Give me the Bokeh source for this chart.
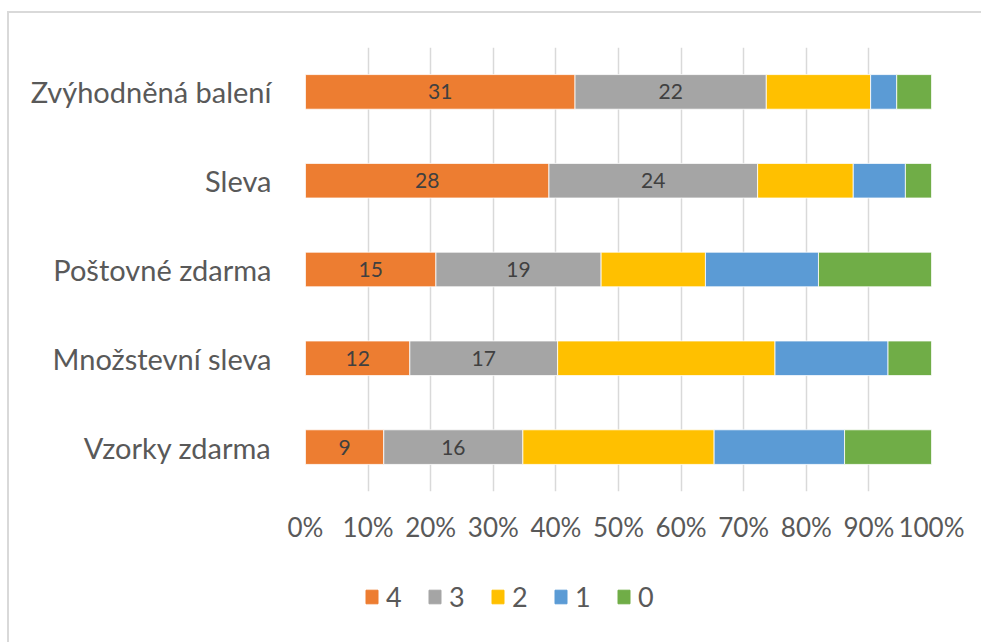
from bokeh.plotting import figure
from bokeh.models import ColumnDataSource, FixedTicker, NumeralTickFormatter, Legend, LegendItem
from bokeh.layouts import column
from bokeh.core.properties import value
from bokeh.embed import file_html
from bokeh.resources import INLINE

categories = ["Zvýhodněná balení", "Sleva", "Poštovné zdarma", "Množstevní sleva", "Vzorky zdarma"]
series = ["4", "3", "2", "1", "0"]
v4 = [31, 28, 15, 12, 9]
v3 = [22, 24, 19, 17, 16]
v2 = [12, 11, 12, 25, 22]
v1 = [3, 6, 13, 13, 15]
v0 = [4, 3, 13, 5, 10]
colors = ["#ED7D31", "#A5A5A5", "#FFC000", "#5B9BD5", "#70AD47"]
tick_values = [0, 0.1, 0.2, 0.3, 0.4, 0.5, 0.6, 0.7, 0.8, 0.9, 1.0]

raw = {"4": v4, "3": v3, "2": v2, "1": v1, "0": v0}
totals = [sum(raw[s][i] for s in series) for i in range(len(categories))]
data = {"cat": categories}
for s in series:
    data[s] = [raw[s][i] / totals[i] for i in range(len(categories))]
data["x4"] = [data["4"][i] / 2 for i in range(len(categories))]
data["x3"] = [data["4"][i] + data["3"][i] / 2 for i in range(len(categories))]
data["l4"] = [str(v) for v in v4]
data["l3"] = [str(v) for v in v3]
source = ColumnDataSource(data)

FONT = "Lato"
TXT = "#595959"
W = 976

p = figure(width=W, height=548, y_range=list(reversed(categories)), x_range=(0, 1),
           output_backend="svg", toolbar_location=None,
           min_border_left=296, min_border_right=54, min_border_top=34, min_border_bottom=70)
p.outline_line_color = None
p.y_range.range_padding = 0

renderers = p.hbar_stack(series, y="cat", height=0.39, source=source, color=colors,
                         line_color="white", line_width=0.8)

p.text(x="x4", y="cat", text="l4", source=source, text_align="center", text_baseline="middle",
       text_font=value(FONT), text_font_size="21px", text_color="#404040")
p.text(x="x3", y="cat", text="l3", source=source, text_align="center", text_baseline="middle",
       text_font=value(FONT), text_font_size="21px", text_color="#404040")

p.xaxis.ticker = FixedTicker(ticks=tick_values)
p.xaxis.formatter = NumeralTickFormatter(format="0%")
p.xaxis.axis_line_color = None
p.xaxis.major_tick_line_color = None
p.xaxis.minor_tick_line_color = None
p.xaxis.major_label_standoff = 13
p.xaxis.major_label_text_font = FONT
p.xaxis.major_label_text_font_size = "26px"
p.xaxis.major_label_text_color = TXT

p.yaxis.axis_line_color = None
p.yaxis.major_tick_line_color = None
p.yaxis.minor_tick_line_color = None
p.yaxis.major_label_standoff = 28
p.yaxis.major_label_text_font = FONT
p.yaxis.major_label_text_font_size = "29px"
p.yaxis.major_label_text_color = TXT

p.xgrid.ticker = FixedTicker(ticks=tick_values)
p.xgrid.grid_line_color = "#d9d9d9"
p.xgrid.grid_line_width = 1.5
p.ygrid.grid_line_color = None

# legend strip (frame is aligned with the main chart's frame by the column layout)
p2 = figure(width=W, height=82, x_range=(0, 1), y_range=(0, 1),
            output_backend="svg", toolbar_location=None,
            min_border_left=296, min_border_right=54, min_border_top=0, min_border_bottom=0)
p2.axis.visible = False
p2.grid.grid_line_color = None
p2.outline_line_color = None
proxy = ColumnDataSource({"y": [float("nan")], "left": [float("nan")], "right": [float("nan")]})
dummies = [p2.hbar(y="y", left="left", right="right", height=0.1, source=proxy,
                   fill_color=c, line_color=c) for c in colors]
legend = Legend(items=[LegendItem(label=s, renderers=[r]) for s, r in zip(series, dummies)],
                orientation="horizontal", location=(59, 30),
                label_text_font=FONT, label_text_font_size="27px", label_text_color=TXT,
                glyph_width=15, glyph_height=17, label_standoff=7, spacing=21,
                border_line_color=None, background_fill_alpha=0, padding=0, margin=0)
p2.add_layout(legend, "center")

layout = column(p, p2, spacing=0,
                styles={"border-top": "2px solid #d9d9d9", "border-left": "2px solid #d9d9d9",
                        "margin-left": "7px", "margin-top": "11px"})

open("out.html", "w").write(file_html(layout, INLINE))
